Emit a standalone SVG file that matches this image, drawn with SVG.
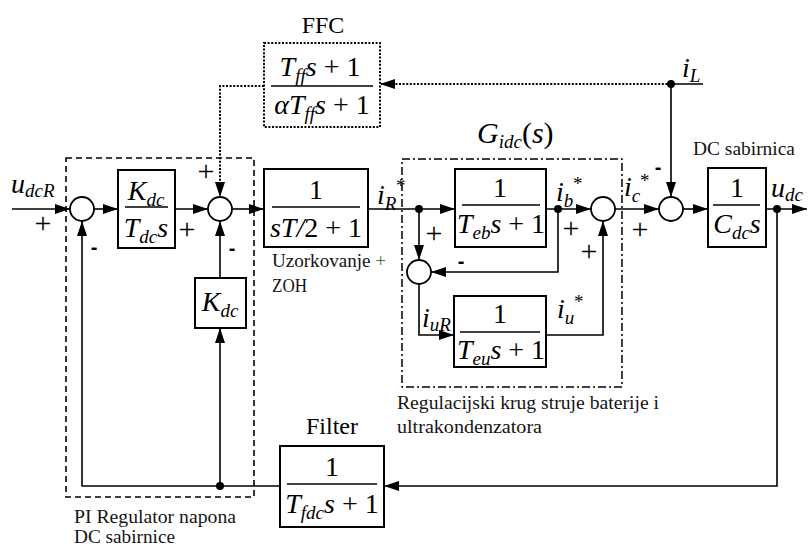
<svg xmlns="http://www.w3.org/2000/svg" width="809" height="547" viewBox="0 0 809 547">
<defs>
<marker id="ar" markerUnits="userSpaceOnUse" markerWidth="15" markerHeight="10" refX="15" refY="5" orient="auto">
<path d="M0,0 L15,5 L0,10 z" fill="#000"/>
</marker>
<style>
.ln{stroke:#000;stroke-width:1.6;fill:none}
.dt{stroke:#000;stroke-width:2;fill:none;stroke-dasharray:2,1.6}
.box{fill:#fff;stroke:#000;stroke-width:2}
.fl{stroke:#000;stroke-width:1.6}
.sum{fill:#fff;stroke:#000;stroke-width:1.8}
.dot{fill:#000}
.m{font-family:"Liberation Serif","Times New Roman",serif;font-style:italic;font-size:28px;fill:#000}
.r{font-family:"Liberation Serif","Times New Roman",serif;font-style:normal}
.sub{font-size:19px}
.st{font-family:"Liberation Serif","Times New Roman",serif;font-size:19px;fill:#000}
.sg{font-family:"Liberation Serif","Times New Roman",serif;font-size:30px;fill:#000;text-anchor:middle}
.mn{font-family:"Liberation Sans",Arial,sans-serif;font-weight:bold;font-size:20px;fill:#000;text-anchor:middle}
.t{font-family:"Liberation Serif","Times New Roman",serif;font-size:18px;fill:#141414}
.tt{font-family:"Liberation Serif","Times New Roman",serif;font-size:24px;fill:#000;text-anchor:middle}
</style>
</defs>

<g id="frames">
<rect x="66" y="158" width="188" height="339" fill="none" stroke="#000" stroke-width="1.6" stroke-dasharray="6,4"/>
<rect x="402" y="159" width="220" height="228" fill="none" stroke="#000" stroke-width="1.5" stroke-dasharray="8,3,2,3"/>
</g>

<g id="connectors">
<path class="ln" d="M12,209 H70" marker-end="url(#ar)"/>
<path class="ln" d="M94,209 H118" marker-end="url(#ar)"/>
<path class="ln" d="M175,209 H208" marker-end="url(#ar)"/>
<path class="ln" d="M232,209 H264" marker-end="url(#ar)"/>
<path class="ln" d="M368,209 H455" marker-end="url(#ar)"/>
<path class="ln" d="M419,209 V260" marker-end="url(#ar)"/>
<path class="ln" d="M546,209 H591" marker-end="url(#ar)"/>
<path class="ln" d="M558,209 V272 H431" marker-end="url(#ar)"/>
<path class="ln" d="M419,284 V335 H454" marker-end="url(#ar)"/>
<path class="ln" d="M546,335 H603 V221" marker-end="url(#ar)"/>
<path class="ln" d="M615,209 H659" marker-end="url(#ar)"/>
<path class="ln" d="M703,84 H671 V197" marker-end="url(#ar)"/>
<path class="dt" d="M671,84 H380" marker-end="url(#ar)"/>
<path class="dt" d="M264,86 H220 V197" marker-end="url(#ar)"/>
<path class="ln" d="M683,209 H708" marker-end="url(#ar)"/>
<path class="ln" d="M766,209 H807" marker-end="url(#ar)"/>
<path class="ln" d="M777,209 V486 H384" marker-end="url(#ar)"/>
<path class="ln" d="M280,486 H82 V221" marker-end="url(#ar)"/>
<path class="ln" d="M220,486 V328" marker-end="url(#ar)"/>
<path class="ln" d="M220,278 V221" marker-end="url(#ar)"/>
<circle class="dot" cx="419" cy="209" r="4"/>
<circle class="dot" cx="558" cy="209" r="4"/>
<circle class="dot" cx="671" cy="84" r="4"/>
<circle class="dot" cx="777" cy="209" r="4"/>
<circle class="dot" cx="220" cy="486" r="4"/>
</g>

<g id="sum1"><circle class="sum" cx="82" cy="209" r="12"/></g>
<g id="sum2"><circle class="sum" cx="220" cy="209" r="12"/></g>
<g id="sum3"><circle class="sum" cx="603" cy="209" r="12"/></g>
<g id="sum4"><circle class="sum" cx="419" cy="272" r="12"/></g>
<g id="sum5"><circle class="sum" cx="671" cy="209" r="12"/></g>

<g id="pi">
<rect class="box" x="118" y="170" width="57" height="78"/>
<line class="fl" x1="125" y1="207" x2="168" y2="207"/>
<text class="m" x="146" y="200" text-anchor="middle">K<tspan class="sub" dy="6">dc</tspan></text>
<text class="m" x="146" y="237" text-anchor="middle">T<tspan class="sub" dy="6">dc</tspan><tspan dy="-6">s</tspan></text>
</g>

<g id="kdc">
<rect class="box" x="195" y="278" width="51" height="50"/>
<text class="m" x="220" y="311" text-anchor="middle">K<tspan class="sub" dy="6">dc</tspan></text>
</g>

<g id="zoh">
<rect class="box" x="264" y="169" width="104" height="78"/>
<line class="fl" x1="272" y1="207" x2="360" y2="207"/>
<text class="m" x="316" y="199" text-anchor="middle"><tspan class="r">1</tspan></text>
<text class="m" x="316" y="237" text-anchor="middle">sT/<tspan class="r">2 + 1</tspan></text>
<text class="t" x="272" y="267" textLength="114" lengthAdjust="spacingAndGlyphs">Uzorkovanje <tspan fill="#3a7a3a">+</tspan></text>
<text class="t" x="272" y="292" textLength="35" lengthAdjust="spacingAndGlyphs">ZOH</text>
</g>

<g id="ffc">
<rect x="264" y="43" width="116" height="84" fill="#fff" stroke="#000" stroke-width="2" stroke-dasharray="2,1.6"/>
<line class="fl" x1="271" y1="86" x2="373" y2="86"/>
<text class="m" x="320" y="76" text-anchor="middle">T<tspan class="sub" dy="6">ff</tspan><tspan dy="-6">s</tspan><tspan class="r"> + 1</tspan></text>
<text class="m" x="322" y="114" text-anchor="middle">αT<tspan class="sub" dy="6">ff</tspan><tspan dy="-6">s</tspan><tspan class="r"> + 1</tspan></text>
<text class="tt" x="323" y="33">FFC</text>
</g>

<g id="teb">
<rect class="box" x="455" y="169" width="91" height="78"/>
<line class="fl" x1="462" y1="205" x2="540" y2="205"/>
<text class="m" x="500" y="197" text-anchor="middle"><tspan class="r">1</tspan></text>
<text class="m" x="501" y="233" text-anchor="middle">T<tspan class="sub" dy="6">eb</tspan><tspan dy="-6">s</tspan><tspan class="r"> + 1</tspan></text>
</g>

<g id="teu">
<rect class="box" x="454" y="296" width="92" height="71"/>
<line class="fl" x1="460" y1="332" x2="540" y2="332"/>
<text class="m" x="500" y="323" text-anchor="middle"><tspan class="r">1</tspan></text>
<text class="m" x="501" y="359" text-anchor="middle">T<tspan class="sub" dy="6">eu</tspan><tspan dy="-6">s</tspan><tspan class="r"> + 1</tspan></text>
</g>

<g id="cdc">
<rect class="box" x="708" y="168" width="58" height="79"/>
<line class="fl" x1="713" y1="205" x2="760" y2="205"/>
<text class="m" x="737" y="197" text-anchor="middle"><tspan class="r">1</tspan></text>
<text class="m" x="737" y="233" text-anchor="middle">C<tspan class="sub" dy="6">dc</tspan><tspan dy="-6">s</tspan></text>
<text class="t" x="693" y="155" textLength="102" lengthAdjust="spacingAndGlyphs">DC sabirnica</text>
</g>

<g id="filter">
<rect class="box" x="280" y="446" width="104" height="81"/>
<line class="fl" x1="287" y1="484" x2="377" y2="484"/>
<text class="m" x="332" y="476" text-anchor="middle"><tspan class="r">1</tspan></text>
<text class="m" x="332" y="513" text-anchor="middle">T<tspan class="sub" dy="6">fdc</tspan><tspan dy="-6">s</tspan><tspan class="r"> + 1</tspan></text>
<text class="tt" x="332" y="434">Filter</text>
</g>

<g id="labels">
<text class="m" x="11" y="193">u<tspan class="sub" dy="4">dcR</tspan></text>
<text class="m" x="377" y="204">i<tspan class="sub" dy="6">R</tspan></text>
<text class="st" x="396" y="192">*</text>
<text class="m" x="556" y="201">i<tspan class="sub" dy="6">b</tspan></text>
<text class="st" x="573" y="190">*</text>
<text class="m" x="624" y="196">i<tspan class="sub" dy="6">c</tspan></text>
<text class="st" x="640" y="187">*</text>
<text class="m" x="557" y="318">i<tspan class="sub" dy="6">u</tspan></text>
<text class="st" x="574" y="308">*</text>
<text class="m" x="422" y="327">i<tspan class="sub" dy="4">uR</tspan></text>
<text class="m" x="682" y="77">i<tspan class="sub" dy="5">L</tspan></text>
<text class="m" x="771" y="197">u<tspan class="sub" dy="4">dc</tspan></text>
<text class="m" x="477" y="143" style="font-size:30px">G<tspan class="sub" dy="5">idc</tspan><tspan class="r" dy="-5">(</tspan>s<tspan class="r">)</tspan></text>
<text class="t" x="397" y="409" textLength="262" lengthAdjust="spacingAndGlyphs">Regulacijski krug struje baterije i</text>
<text class="t" x="397" y="433" textLength="145" lengthAdjust="spacingAndGlyphs">ultrakondenzatora</text>
<text class="t" x="74" y="523" textLength="162" lengthAdjust="spacingAndGlyphs">PI Regulator napona</text>
<text class="t" x="74" y="543" textLength="101" lengthAdjust="spacingAndGlyphs">DC sabirnice</text>
</g>

<g id="signs">
<text class="sg" x="43" y="233">+</text>
<text class="mn" x="94" y="254">-</text>
<text class="sg" x="206" y="181">+</text>
<text class="sg" x="187" y="239">+</text>
<text class="mn" x="232" y="255">-</text>
<text class="sg" x="434" y="243">+</text>
<text class="mn" x="461" y="268">-</text>
<text class="sg" x="571" y="238">+</text>
<text class="sg" x="589" y="261">+</text>
<text class="sg" x="640" y="239">+</text>
<text class="mn" x="658" y="174">-</text>
</g>
</svg>
